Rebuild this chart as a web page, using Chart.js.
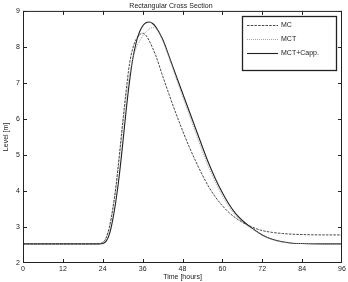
<!DOCTYPE html>
<html>
<head>
<meta charset="utf-8">
<script src="https://cdn.jsdelivr.net/npm/chart.js@4"></script>
<style>
  html, body { margin: 0; padding: 0; background: #fff; }
  #wrap { width: 348px; height: 282px; }
</style>
</head>
<body>
<div id="wrap"><canvas id="levelChart" width="348" height="282"></canvas></div>
<script>
const hours = [0, 22, 23, 24, 25, 26, 27, 28, 29, 30, 31, 32, 33, 34, 35, 36, 37, 38, 39, 40,
  42, 44, 46, 48, 50, 52, 54, 56, 58, 60, 62, 64, 66, 68, 70, 72, 75, 78, 81, 84, 90, 96];

const mcLevel = [2.53, 2.53, 2.54, 2.57, 2.7, 3.0, 3.5, 4.15, 5.0, 5.9, 6.75, 7.5, 7.95, 8.2, 8.33, 8.38, 8.32, 8.17, 7.97, 7.75,
  7.2, 6.67, 6.16, 5.68, 5.23, 4.82, 4.44, 4.1, 3.82, 3.59, 3.4, 3.25, 3.13, 3.04, 2.96, 2.9, 2.85, 2.82, 2.8, 2.79, 2.78, 2.78];

const mctLevel = [2.53, 2.53, 2.54, 2.56, 2.68, 2.95, 3.45, 4.1, 4.9, 5.75, 6.55, 7.2, 7.65, 7.95, 8.15, 8.3, 8.42, 8.5, 8.54, 8.52,
  8.18, 7.68, 7.15, 6.63, 6.12, 5.6, 5.1, 4.63, 4.22, 3.86, 3.56, 3.32, 3.14, 3.0, 2.88, 2.77, 2.65, 2.58, 2.55, 2.54, 2.53, 2.53];

const cappLevel = [2.53, 2.53, 2.53, 2.54, 2.6, 2.8, 3.2, 3.75, 4.45, 5.3, 6.2, 7.0, 7.65, 8.1, 8.4, 8.58, 8.67, 8.69, 8.65, 8.55,
  8.22, 7.73, 7.22, 6.72, 6.22, 5.72, 5.22, 4.74, 4.32, 3.95, 3.63, 3.37, 3.18, 3.03, 2.9, 2.78, 2.66, 2.59, 2.55, 2.54, 2.53, 2.53];

const xTicks = [0, 12, 24, 36, 48, 60, 72, 84, 96];
const yTicks = [2, 3, 4, 5, 6, 7, 8, 9];

const FONT = "'Liberation Sans', Arial, sans-serif";
const INK = "#222";

function toPoints(ys) {
  return hours.map((h, i) => ({ x: h, y: ys[i] }));
}

// box, inward ticks on all sides, legend
const framePlugin = {
  id: "frame",
  afterDraw(chart) {
    const { ctx, chartArea: a, scales } = chart;
    const clamp = (v, lo, hi) => Math.min(Math.max(v, lo), hi);
    ctx.save();
    ctx.strokeStyle = INK;
    ctx.lineWidth = 1;
    ctx.strokeRect(a.left + 0.5, a.top + 0.5, a.right - a.left - 1, a.bottom - a.top - 1);
    const t = 4;
    ctx.beginPath();
    xTicks.forEach(v => {
      const px = clamp(Math.round(scales.x.getPixelForValue(v)) + 0.5, a.left + 0.5, a.right - 0.5);
      ctx.moveTo(px, a.bottom); ctx.lineTo(px, a.bottom - t);
      ctx.moveTo(px, a.top); ctx.lineTo(px, a.top + t);
    });
    yTicks.forEach(v => {
      const py = clamp(Math.round(scales.y.getPixelForValue(v)) + 0.5, a.top + 0.5, a.bottom - 0.5);
      ctx.moveTo(a.left, py); ctx.lineTo(a.left + t, py);
      ctx.moveTo(a.right, py); ctx.lineTo(a.right - t, py);
    });
    ctx.stroke();

    // legend
    const bx = 242, by = 16, bw = 94, bh = 54;
    ctx.fillStyle = "#fff";
    ctx.fillRect(bx, by, bw, bh);
    ctx.lineWidth = 1.3;
    ctx.strokeStyle = INK;
    ctx.strokeRect(bx + 0.5, by + 0.5, bw, bh);
    ctx.font = "7px " + FONT;
    ctx.textBaseline = "middle";
    const rows = [25, 38.5, 52.5];
    chart.data.datasets.forEach((ds, i) => {
      const y = Math.round(rows[i]) + 0.5;
      ctx.beginPath();
      ctx.setLineDash(ds.borderDash || []);
      ctx.strokeStyle = ds.borderColor;
      ctx.lineWidth = ds.borderWidth;
      ctx.moveTo(247, y); ctx.lineTo(278, y);
      ctx.stroke();
      ctx.setLineDash([]);
      ctx.fillStyle = INK;
      ctx.fillText(ds.label, 281, y);
    });
    ctx.restore();
  }
};

new Chart(document.getElementById("levelChart"), {
  type: "line",
  data: {
    datasets: [
      {
        label: "MC",
        data: toPoints(mcLevel),
        borderColor: "#333",
        borderWidth: 0.9,
        borderDash: [2.5, 1.2],
        pointRadius: 0,
        fill: false,
        cubicInterpolationMode: "monotone"
      },
      {
        label: "MCT",
        data: toPoints(mctLevel),
        borderColor: "#999",
        borderWidth: 0.9,
        borderDash: [1, 1],
        pointRadius: 0,
        fill: false,
        cubicInterpolationMode: "monotone"
      },
      {
        label: "MCT+Capp.",
        data: toPoints(cappLevel),
        borderColor: "#222",
        borderWidth: 1.1,
        pointRadius: 0,
        fill: false,
        cubicInterpolationMode: "monotone"
      }
    ]
  },
  options: {
    responsive: false,
    animation: false,
    layout: { padding: { left: 0, right: 6, top: 0, bottom: 0 } },
    plugins: {
      legend: { display: false },
      tooltip: { enabled: false },
      title: {
        display: true,
        text: "Rectangular Cross Section",
        color: INK,
        font: { family: FONT, size: 7, weight: "normal" },
        padding: { top: 1.5, bottom: 1 }
      }
    },
    scales: {
      x: {
        type: "linear",
        min: 0,
        max: 96,
        afterBuildTicks: s => { s.ticks = xTicks.map(v => ({ value: v })); },
        afterFit: s => { s.height = 19; },
        grid: { display: false, drawTicks: false },
        border: { display: false },
        ticks: { color: INK, font: { family: FONT, size: 7 }, padding: 2, maxRotation: 0 },
        title: {
          display: true,
          text: "Time [hours]",
          color: INK,
          font: { family: FONT, size: 7 },
          padding: { top: 0, bottom: 1 }
        }
      },
      y: {
        min: 2,
        max: 9,
        afterBuildTicks: s => { s.ticks = yTicks.map(v => ({ value: v })); },
        afterFit: s => { s.width = 23; },
        grid: { display: false, drawTicks: false },
        border: { display: false },
        ticks: { color: INK, font: { family: FONT, size: 7 }, padding: 3 },
        title: {
          display: true,
          text: "Level [m]",
          color: INK,
          font: { family: FONT, size: 7 },
          padding: { top: 2, bottom: 0 }
        }
      }
    }
  },
  plugins: [framePlugin]
});
</script>
</body>
</html>
